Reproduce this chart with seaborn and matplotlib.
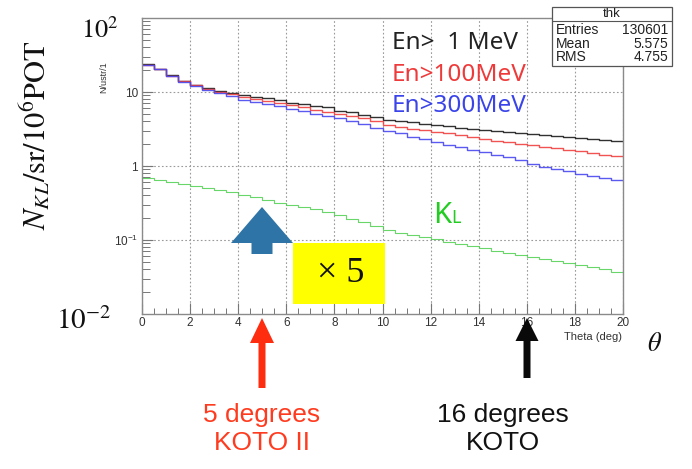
import numpy as np
import pandas as pd
import matplotlib
matplotlib.use("Agg")
import matplotlib.pyplot as plt
from matplotlib.patches import Polygon, Rectangle
import seaborn as sns

# ---------------- data ----------------
bin_lo = [i * 0.5 for i in range(40)]  # lower edges of 0.5-degree bins, 0..19.5
theta_max = 20.0

en_gt_1mev = [23.7, 20.7, 16.8, 14.2, 12.6, 11.2, 10.4, 9.8, 9.0, 8.6,
              8.2, 7.8, 7.2, 6.9, 6.5, 6.2, 5.6, 5.3, 4.9, 4.6,
              4.2, 4.05, 3.9, 3.75, 3.6, 3.45, 3.3, 3.15, 3.02, 2.93,
              2.84, 2.75, 2.67, 2.6, 2.52, 2.45, 2.37, 2.3, 2.22, 2.15]
en_gt_100mev = [23.5, 20.5, 16.6, 14.0, 12.4, 11.0, 10.1, 9.3, 8.6, 8.1,
                7.6, 7.1, 6.6, 6.2, 5.8, 5.45, 5.1, 4.75, 4.4, 4.1,
                3.6, 3.4, 3.2, 3.05, 2.9, 2.75, 2.6, 2.45, 2.3, 2.2,
                2.1, 2.0, 1.9, 1.82, 1.73, 1.66, 1.58, 1.5, 1.42, 1.35]
en_gt_300mev = [23.3, 20.3, 16.4, 13.8, 12.2, 10.7, 9.7, 8.8, 7.9, 7.3,
                6.8, 6.4, 5.9, 5.5, 5.1, 4.75, 4.45, 4.1, 3.7, 3.3,
                2.95, 2.75, 2.5, 2.3, 2.1, 1.95, 1.8, 1.66, 1.53, 1.42,
                1.32, 1.2, 1.07, 0.98, 0.92, 0.85, 0.79, 0.74, 0.69, 0.64]
k_long = [0.68, 0.64, 0.60, 0.57, 0.53, 0.50, 0.47, 0.44, 0.41, 0.38,
          0.35, 0.32, 0.30, 0.28, 0.26, 0.24, 0.215, 0.195, 0.175, 0.155,
          0.135, 0.125, 0.117, 0.11, 0.102, 0.095, 0.088, 0.082, 0.077, 0.072,
          0.067, 0.063, 0.059, 0.055, 0.052, 0.049, 0.046, 0.043, 0.040, 0.037]

x_ticks = [0, 2, 4, 6, 8, 10, 12, 14, 16, 18, 20]
y_ticks = [0.1, 1, 10]
y_tick_labels = [r"$\mathregular{10^{-1}}$", "1", "10"]
stats = [("Entries", "130601"), ("Mean", "5.575"), ("RMS", "4.755")]

# ---------------- style ----------------
sns.set_theme(style="white")
plt.rcParams["font.family"] = ["Liberation Sans", "DejaVu Sans"]
plt.rcParams["mathtext.fontset"] = "stix"

W, H = 692, 469
fig = plt.figure(figsize=(W / 100, H / 100), dpi=100)
fig.patch.set_facecolor("white")


def fx(x):
    return x / W


def fy(y):
    return 1 - y / H


ax_l, ax_r, ax_t, ax_b = 142, 623, 18, 314
ax = fig.add_axes([fx(ax_l), fy(ax_b), (ax_r - ax_l) / W, (ax_b - ax_t) / H])
ax.set_facecolor("white")

edges = bin_lo + [theta_max]
series = [
    (en_gt_1mev, "#1a1a1a", 1.0, 0.9),
    (en_gt_100mev, "#f04040", 1.0, 0.9),
    (en_gt_300mev, "#4848f0", 1.0, 0.9),
    (k_long, "#44cc44", 0.8, 0.8),
]
for vals, col, lw, al in series:
    df = pd.DataFrame({"theta": edges, "n": list(vals) + [vals[-1]]})
    sns.lineplot(data=df, x="theta", y="n", ax=ax, color=col, lw=lw,
                 drawstyle="steps-post", alpha=al)

ax.set_yscale("log")
ax.set_xlim(0, 20)
ax.set_ylim(0.01, 100)
ax.set_xticks(x_ticks)
ax.set_xticklabels([str(v) for v in x_ticks])
ax.set_xticks(np.arange(0, 20.01, 0.5), minor=True)
ax.set_yticks(y_ticks)
ax.set_yticklabels(y_tick_labels)
ax.set_xlabel("")
ax.set_ylabel("")
ax.tick_params(axis="both", which="major", direction="in", length=8, width=0.8,
               color="#777777", labelsize=8.5, labelcolor="#333333", pad=3,
               left=True, bottom=True, top=False, right=False)
ax.tick_params(axis="x", which="major", pad=2)
ax.tick_params(axis="both", which="minor", direction="in", length=4, width=0.7,
               color="#777777", left=True, bottom=True, top=False, right=False)
ax.tick_params(axis="y", which="minor", length=6)
ax.yaxis.set_minor_formatter(matplotlib.ticker.NullFormatter())
for s in ax.spines.values():
    s.set_color("#8a8a8a")
    s.set_linewidth(1.0)
ax.grid(True, which="major", color="#9a9a9a", linestyle=(0, (1.5, 2)), lw=0.8)

# small ROOT axis titles
fig.text(fx(104), fy(77), "N/ustr/1", rotation=90, ha="center", va="center",
         fontsize=6.5, color="#333333")
fig.text(fx(622), fy(337), "Theta (deg)", ha="right", va="center",
         fontsize=8, color="#333333")

# big overlay labels
fig.text(fx(36), fy(135), r"$N_{KL}/\mathrm{sr}/10^{6}\mathrm{POT}$", rotation=90,
         ha="center", va="center", fontsize=22, color="#111111")
fig.text(fx(100), fy(30), r"$10^{2}$", ha="center", va="center", fontsize=19,
         color="#111111")
fig.text(fx(84), fy(321), r"$10^{-2}$", ha="center", va="center", fontsize=21,
         color="#111111")
fig.text(fx(655), fy(344), r"$\theta$", ha="center", va="center", fontsize=19,
         color="#111111")

# energy labels
lab_font = ["Noto Sans", "DejaVu Sans"]
fig.text(fx(392), fy(43), "En>  1 MeV", ha="left", va="center", fontsize=17.5,
         color="#222222", family=lab_font)
fig.text(fx(392), fy(75), "En>100MeV", ha="left", va="center", fontsize=17.5,
         color="#ee3a3a", family=lab_font)
fig.text(fx(392), fy(106), "En>300MeV", ha="left", va="center", fontsize=17.5,
         color="#3a44e8", family=lab_font)

# K_L label
fig.text(fx(433), fy(223), "K", ha="left", va="baseline", fontsize=21,
         color="#22cc22", family=lab_font)
fig.text(fx(451), fy(223), "L", ha="left", va="baseline", fontsize=13,
         color="#22cc22", family=lab_font)

# stats box
bx0, by0, bx1, by1, bmid = 552, 7, 672, 66, 21
fig.patches.append(Rectangle((fx(bx0), fy(by1)), (bx1 - bx0) / W, (by1 - by0) / H,
                             transform=fig.transFigure, facecolor="white",
                             edgecolor="#555555", lw=0.9, zorder=5))
fig.lines.append(plt.Line2D([fx(bx0), fx(bx1)], [fy(bmid), fy(bmid)],
                            transform=fig.transFigure, color="#555555", lw=0.8,
                            zorder=6))
fig.text(fx((bx0 + bx1) / 2), fy(14), "thk", ha="center", va="center",
         fontsize=9.5, color="#222222", zorder=7)
for i, (k, v) in enumerate(stats):
    yy = 30 + i * 13.5
    fig.text(fx(556), fy(yy), k, ha="left", va="center", fontsize=10,
             color="#222222", zorder=7)
    fig.text(fx(668), fy(yy), v, ha="right", va="center", fontsize=10,
             color="#222222", zorder=7)


def up_arrow(cx, tip, bottom, head_w, head_len, stem_w):
    base = tip + head_len
    pts = [(cx, tip), (cx + head_w / 2, base), (cx + stem_w / 2, base),
           (cx + stem_w / 2, bottom), (cx - stem_w / 2, bottom),
           (cx - stem_w / 2, base), (cx - head_w / 2, base)]
    return [(fx(a), fy(b)) for a, b in pts]


# blue block arrow
fig.patches.append(Polygon(up_arrow(262, 207, 254, 62, 36, 21), closed=True,
                           transform=fig.transFigure, facecolor="#2f74a6",
                           edgecolor="none", zorder=5))
# yellow box with x5
fig.patches.append(Rectangle((fx(293), fy(304)), 92 / W, 61 / H,
                             transform=fig.transFigure, facecolor="#ffff00",
                             edgecolor="none", zorder=5))
fig.text(fx(341), fy(274), "× 5", ha="center", va="center", fontsize=26,
         color="#111111", family=["Liberation Serif", "DejaVu Serif"], zorder=6)

# red and black arrows
fig.patches.append(Polygon(up_arrow(262, 318, 388, 24, 25, 7), closed=True,
                           transform=fig.transFigure, facecolor="#ff2d10",
                           edgecolor="none", zorder=5))
fig.patches.append(Polygon(up_arrow(527, 318, 378, 23, 23, 7), closed=True,
                           transform=fig.transFigure, facecolor="#0a0a0a",
                           edgecolor="none", zorder=5))

fig.text(fx(262), fy(415), "5 degrees", ha="center", va="center", fontsize=19,
         color="#ff3b1f")
fig.text(fx(262), fy(443), "KOTO II", ha="center", va="center", fontsize=19,
         color="#ff3b1f")
fig.text(fx(503), fy(415), "16 degrees", ha="center", va="center", fontsize=19,
         color="#111111")
fig.text(fx(503), fy(443), "KOTO", ha="center", va="center", fontsize=19,
         color="#111111")

fig.savefig("out.png", dpi=100)
